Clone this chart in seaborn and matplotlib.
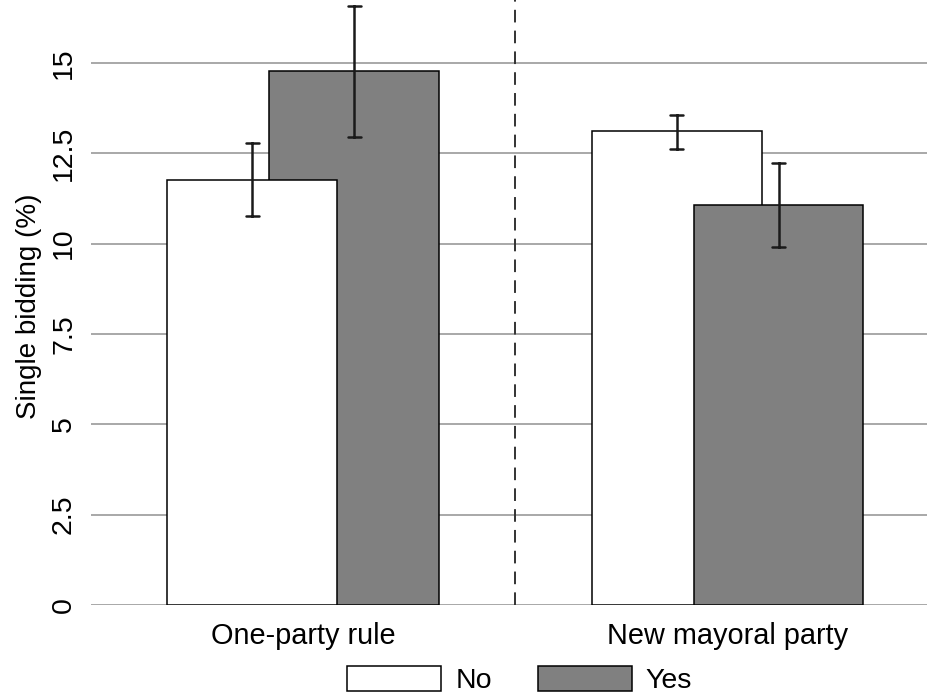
import numpy as np
import pandas as pd
import matplotlib
matplotlib.use("Agg")
import matplotlib.pyplot as plt
import seaborn as sns

# valeurs
groups = ["One-party rule", "New mayoral party"]
levels = ["No", "Yes"]
no_mean = [11.76, 13.12]
no_low = [10.77, 12.62]
no_high = [12.79, 13.56]
yes_mean = [14.78, 11.07]
yes_low = [12.95, 9.91]
yes_high = [16.58, 12.23]

# une ligne par borne : la médiane donne la barre, pi 100 donne min/max
rows = []
offsets = {"No": -0.12, "Yes": 0.12}
for i, g in enumerate(groups):
    for lev, m, lo, hi in [("No", no_mean[i], no_low[i], no_high[i]),
                           ("Yes", yes_mean[i], yes_low[i], yes_high[i])]:
        for v in (lo, m, hi):
            rows.append({"pos": i + offsets[lev], "response": lev, "value": v})
df = pd.DataFrame(rows)

sns.set_theme(style="white")
plt.rcParams["font.family"] = ["Liberation Sans", "DejaVu Sans"]
plt.rcParams["text.color"] = "black"
plt.rcParams["xtick.color"] = "black"
plt.rcParams["ytick.color"] = "black"
plt.rcParams["axes.labelcolor"] = "black"

fig = plt.figure(figsize=(9.28, 6.97), dpi=100)
ax = fig.add_axes([91 / 928, 92 / 697, 837 / 928, 605 / 697])

sns.barplot(data=df, x="pos", y="value", hue="response", hue_order=levels,
            palette={"No": "white", "Yes": "#808080"}, native_scale=True,
            estimator="median", errorbar=("pi", 100), width=0.4 / 0.24,
            capsize=0.13, edgecolor="black", linewidth=1.1,
            err_kws={"color": "#1a1a1a", "linewidth": 1.8, "zorder": 20},
            saturation=1, ax=ax)

# la barre la plus courte passe devant
for p in ax.patches:
    if p.get_height() > 0:
        p.set_zorder(20 - p.get_height())
for ln in ax.lines:
    ln.set_zorder(25)

ax.set_xlim(-0.5, 1.472)
ax.set_ylim(0, 16.74)
ax.set_xticks([0, 1])
ax.set_xticklabels(groups, fontsize=20.8)
ax.set_yticks([0, 2.5, 5, 7.5, 10, 12.5, 15])
ax.set_yticklabels(["0", "2.5", "5", "7.5", "10", "12.5", "15"], fontsize=20.5,
                   rotation=90, va="center")
ax.tick_params(axis="both", length=0)
ax.tick_params(axis="x", pad=12)
ax.tick_params(axis="y", pad=10)
ax.set_xlabel("")
ax.set_ylabel("Single bidding (%)", fontsize=20)
ax.yaxis.set_label_coords(-0.0585, 0.494)
ax.grid(axis="y", color="#a8a8a8", linewidth=1.4)
ax.set_axisbelow(True)
for s in ax.spines.values():
    s.set_visible(False)
ax.axvline(0.5, color="#333333", linestyle=(0, (6.5, 4.2)), linewidth=1.4, zorder=1.5)

sns.move_legend(ax, "center", bbox_to_anchor=(0.56, 0.024),
                bbox_transform=fig.transFigure, ncol=2, frameon=False,
                title=None, fontsize=20.5, handlelength=3.3, handleheight=0.94,
                columnspacing=1.6, handletextpad=0.5)
for h in ax.get_legend().get_patches():
    h.set_edgecolor("black")
    h.set_linewidth(1.1)

fig.savefig("out.png", dpi=100)
